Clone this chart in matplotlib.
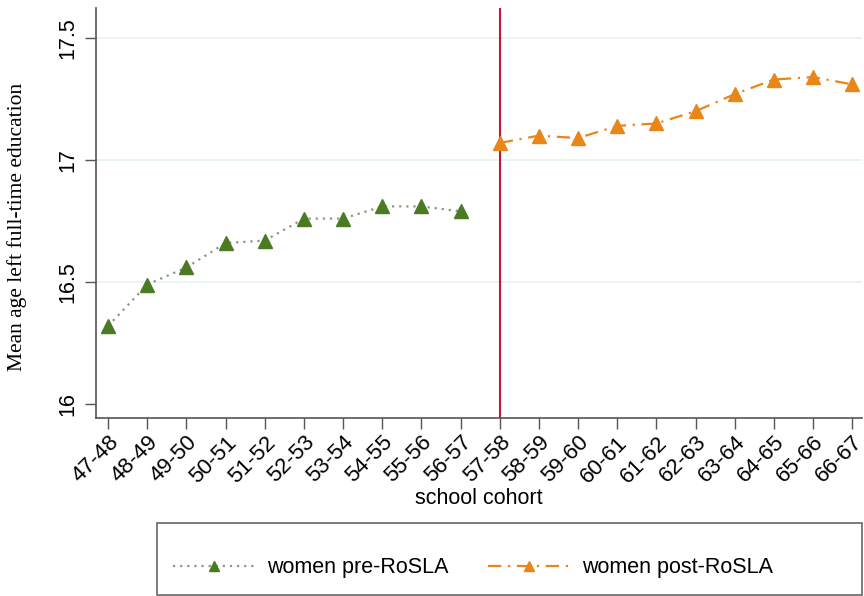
import matplotlib
matplotlib.use("Agg")
import matplotlib.pyplot as plt
from matplotlib.patches import Rectangle

# school cohorts and mean age left full-time education
cohorts = ["47-48", "48-49", "49-50", "50-51", "51-52", "52-53", "53-54",
           "54-55", "55-56", "56-57", "57-58", "58-59", "59-60", "60-61",
           "61-62", "62-63", "63-64", "64-65", "65-66", "66-67"]
pre_vals = [16.32, 16.49, 16.56, 16.66, 16.67, 16.76, 16.76, 16.81, 16.81, 16.79]
post_vals = [17.07, 17.10, 17.09, 17.14, 17.15, 17.20, 17.27, 17.33, 17.34, 17.31]
yticks = [16, 16.5, 17, 17.5]
ytick_labels = ["16", "16.5", "17", "17.5"]
rosla_cohort = "57-58"

green = "#4a7a22"
orange = "#e8861a"
red = "#c3163f"

plt.rcParams["font.family"] = ["Liberation Sans", "DejaVu Sans"]

fig = plt.figure(figsize=(8.64, 5.96), dpi=100)
ax = fig.add_axes([96 / 864, 178 / 596, 766 / 864, 410 / 596])

x_all = list(range(len(cohorts)))
x_pre = x_all[:len(pre_vals)]
x_post = x_all[len(pre_vals):]

for y in yticks[1:]:
    ax.axhline(y, color="#e6f2f0", lw=1.2, zorder=0)

ax.axvline(cohorts.index(rosla_cohort), color=red, lw=1.5, zorder=1)

ax.plot(x_pre, pre_vals, color="#8a9a7a", ls=(0, (1, 2.2)), lw=1.6,
        marker="^", markersize=10, markerfacecolor=green, markeredgecolor=green,
        zorder=3, label="women pre-RoSLA")
ax.plot(x_post, post_vals, color=orange, ls=(0, (6, 3, 1, 3)), lw=1.6,
        marker="^", markersize=10, markerfacecolor=orange, markeredgecolor=orange,
        zorder=3, label="women post-RoSLA")

ax.set_xlim(-0.31, 19.25)
ax.set_ylim(15.943, 17.623)
ax.set_xticks(x_all)
ax.set_xticklabels(cohorts, rotation=45, ha="right", rotation_mode="anchor",
                   fontsize=16)
ax.set_yticks(yticks)
ax.set_yticklabels(ytick_labels, rotation=90, va="center", fontsize=15.5)
ax.tick_params(axis="both", length=8, width=1, color="#555555", pad=5)
ax.tick_params(axis="x", pad=2)

for side in ["top", "right"]:
    ax.spines[side].set_visible(False)
for side in ["left", "bottom"]:
    ax.spines[side].set_color("#555555")
    ax.spines[side].set_linewidth(1.2)

ax.set_xlabel("school cohort", fontsize=15.5)
ax.xaxis.set_label_coords(0.5, -0.17)
ax.set_ylabel("Mean age left full-time education", fontsize=15.5,
              family=["Liberation Serif", "DejaVu Serif"])
ax.yaxis.set_label_coords(-0.09, 0.465)

# legend box below
fig.patches.append(Rectangle((157 / 864, 1 / 596), 705 / 864, 72 / 596,
                             transform=fig.transFigure, fill=False,
                             edgecolor="#666666", lw=1.2))
handles, labels = ax.get_legend_handles_labels()
fig.legend(handles, labels, loc="center", bbox_to_anchor=(473 / 864, 28 / 596),
           ncol=2, frameon=False, fontsize=15.5, handlelength=3.8,
           handletextpad=0.6, columnspacing=1.8, markerscale=0.75)

fig.savefig("out.png", dpi=100)
